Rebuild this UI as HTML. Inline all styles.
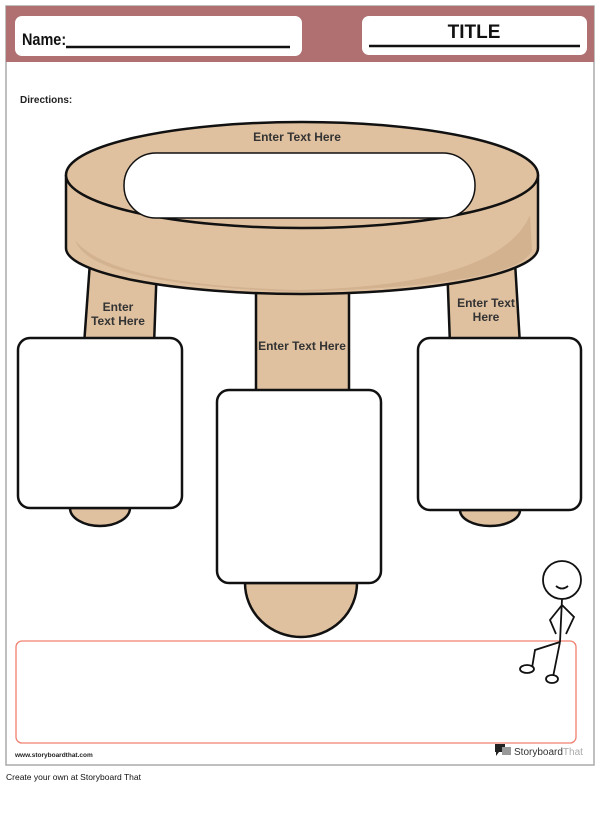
<!DOCTYPE html>
<html><head><meta charset="utf-8"><style>
body{margin:0;background:#fff;width:600px;height:809px;overflow:hidden;font-family:"Liberation Sans",sans-serif}
</style></head><body>
<svg width="600" height="809" viewBox="0 0 600 809" xmlns="http://www.w3.org/2000/svg">
<rect x="6" y="6" width="588" height="759" fill="#fff" stroke="#aaa" stroke-width="1.5"/>
<rect x="6" y="6" width="588" height="56" fill="#b06f70"/>
<rect x="15" y="16" width="287" height="40" rx="7" fill="#fff"/>
<rect x="362" y="16" width="225" height="39" rx="7" fill="#fff"/>
<text x="22" y="45" font-size="17" font-weight="bold" fill="#111" transform="translate(22 0) scale(0.85 1) translate(-22 0)" font-family="Liberation Sans, sans-serif">Name:</text>
<line x1="66" y1="47" x2="290" y2="47" stroke="#111" stroke-width="2.5"/>
<text x="474" y="38" font-size="19" font-weight="bold" text-anchor="middle" fill="#111">TITLE</text>
<line x1="369" y1="46" x2="580" y2="46" stroke="#111" stroke-width="2.5"/>
<text x="20" y="103" font-size="10" font-weight="bold" fill="#222">Directions:</text>
<!-- legs -->
<path d="M90 262 L157 262 L154 345 L84 345 Z" fill="#dfc1a0" stroke="#111" stroke-width="2.5"/>
<path d="M447 262 L515 262 L520 345 L450 345 Z" fill="#dfc1a0" stroke="#111" stroke-width="2.5"/>
<path d="M256 285 L349 285 L349 400 L256 400 Z" fill="#dfc1a0" stroke="#111" stroke-width="2.5"/>
<!-- feet -->
<path d="M70 508 A30 18 0 0 0 130 508 Z" fill="#dfc1a0" stroke="#111" stroke-width="2.5"/>
<path d="M460 510 A30 16 0 0 0 520 510 Z" fill="#dfc1a0" stroke="#111" stroke-width="2.5"/>
<path d="M245 583 A56 54 0 0 0 357 583 Z" fill="#dfc1a0" stroke="#111" stroke-width="2.5"/>
<!-- seat -->
<path d="M66 176 L66 248 A236 46 0 0 0 538 248 L538 176 Z" fill="#dfc1a0" stroke="#111" stroke-width="2.5"/>
<path d="M75 240 Q110 285 300 290 Q500 285 530 215 L532 250 Q520 285 300 292 Q90 285 75 240Z" fill="#cfae8c" opacity="0.8"/>
<ellipse cx="302" cy="175" rx="236" ry="53" fill="#dfc1a0" stroke="#111" stroke-width="2.5"/>
<rect x="124" y="153" width="351" height="65" rx="32" fill="#fff" stroke="#111" stroke-width="1.5"/>
<g font-size="12" font-weight="bold" fill="#333" text-anchor="middle">
<text x="297" y="141">Enter Text Here</text>
<text x="118" y="311">Enter</text><text x="118" y="325">Text Here</text>
<text x="486" y="307">Enter Text</text><text x="486" y="321">Here</text>
<text x="302" y="350">Enter Text Here</text>
</g>
<!-- boxes -->
<rect x="18" y="338" width="164" height="170" rx="12" fill="#fff" stroke="#111" stroke-width="2.5"/>
<rect x="217" y="390" width="164" height="193" rx="12" fill="#fff" stroke="#111" stroke-width="2.5"/>
<rect x="418" y="338" width="163" height="172" rx="12" fill="#fff" stroke="#111" stroke-width="2.5"/>
<rect x="16" y="641" width="560" height="102" rx="6" fill="none" stroke="#f08070" stroke-width="1.3"/>
<!-- stick figure -->
<g fill="none" stroke="#111" stroke-width="1.8">
<circle cx="562" cy="580" r="19" fill="#fff"/>
<path d="M556 586 Q562 591 568 586"/>
<path d="M562 599 L560 642 M562 605 L550 620 L556 634 M562 605 L574 617 L566 634 M560 642 L535 650 L532 668 M560 642 L553 677"/>
<ellipse cx="527" cy="669" rx="7" ry="4" fill="#fff"/>
<ellipse cx="552" cy="679" rx="6" ry="4" fill="#fff"/>
</g>
<text x="15" y="757" font-size="6.5" font-weight="bold" fill="#222">www.storyboardthat.com</text>
<path d="M495 744 h10 v8 h-6 l-3 4 v-4 h-1z" fill="#222"/>
<rect x="502" y="747" width="9" height="8" fill="#999"/>
<text x="514" y="755" font-size="10" fill="#333">Storyboard<tspan fill="#aaa">That</tspan></text>
<text x="6" y="780" font-size="8.5" fill="#111">Create your own at Storyboard That</text>
</svg>
</body></html>
